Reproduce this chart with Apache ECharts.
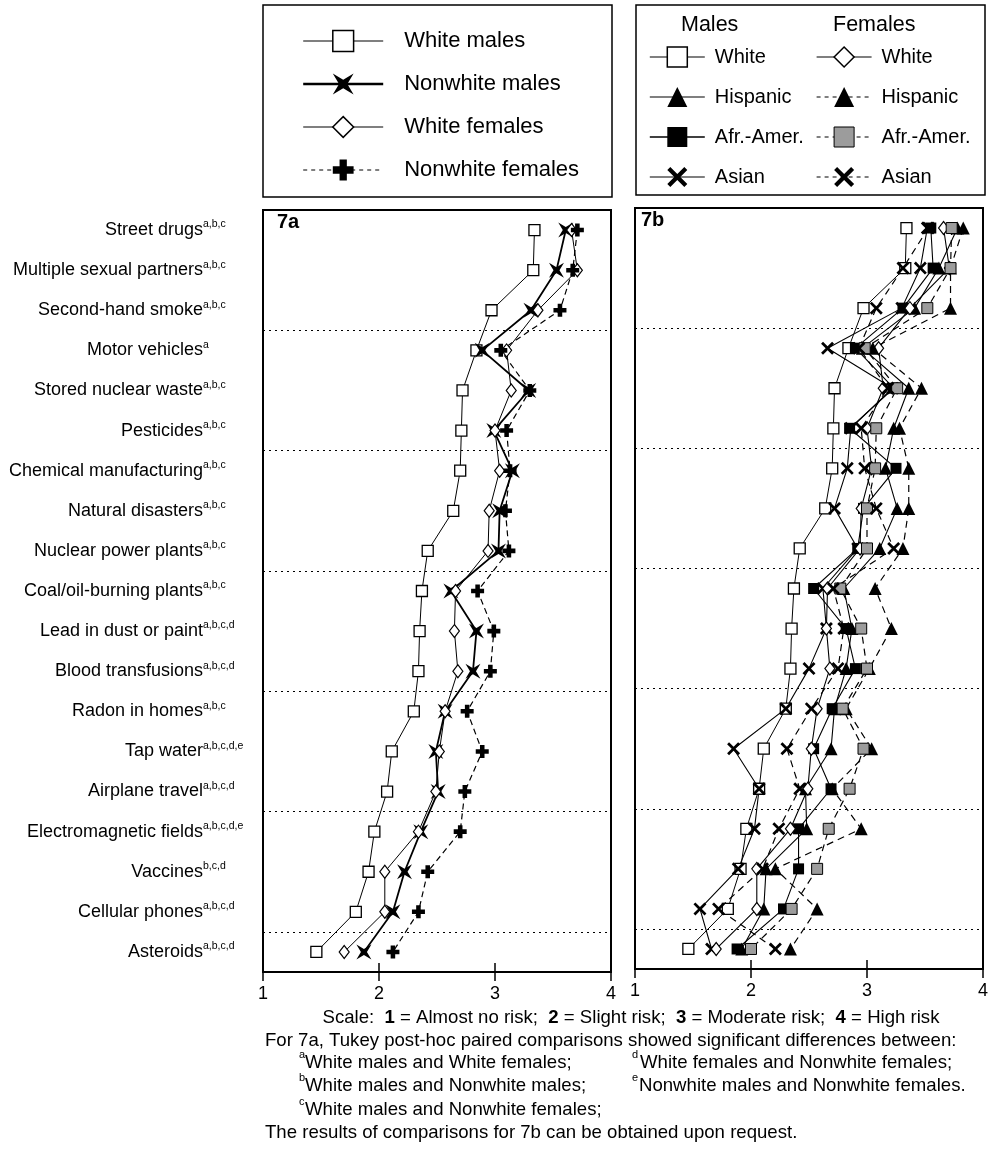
<!DOCTYPE html>
<html><head><meta charset="utf-8">
<script src="https://cdn.jsdelivr.net/npm/echarts@6/dist/echarts.min.js"></script>
<style>html,body{margin:0;padding:0;background:#fff}#c{width:993px;height:1153px}</style>
</head><body><div id="c"></div>
<script>
// ---------- data ----------
const categories = ['Street drugs','Multiple sexual partners','Second-hand smoke','Motor vehicles','Stored nuclear waste','Pesticides','Chemical manufacturing','Natural disasters','Nuclear power plants','Coal/oil-burning plants','Lead in dust or paint','Blood transfusions','Radon in homes','Tap water','Airplane travel','Electromagnetic fields','Vaccines','Cellular phones','Asteroids'];
const superscripts = ['a,b,c','a,b,c','a,b,c','a','a,b,c','a,b,c','a,b,c','a,b,c','a,b,c','a,b,c','a,b,c,d','a,b,c,d','a,b,c','a,b,c,d,e','a,b,c,d','a,b,c,d,e','b,c,d','a,b,c,d','a,b,c,d'];
const tickLabels = ['1','2','3','4'];

// 7a
const whiteMales      = [3.34,3.33,2.97,2.84,2.72,2.71,2.70,2.64,2.42,2.37,2.35,2.34,2.30,2.11,2.07,1.96,1.91,1.80,1.46];
const nonwhiteMales   = [3.61,3.53,3.31,2.89,3.29,2.99,3.15,3.04,3.03,2.62,2.84,2.81,2.57,2.49,2.51,2.36,2.22,2.12,1.87];
const whiteFemales    = [3.66,3.71,3.37,3.10,3.14,3.00,3.04,2.95,2.94,2.66,2.65,2.68,2.57,2.52,2.49,2.34,2.05,2.05,1.70];
const nonwhiteFemales = [3.71,3.67,3.56,3.05,3.30,3.10,3.13,3.09,3.12,2.85,2.99,2.96,2.76,2.89,2.74,2.70,2.42,2.34,2.12];

// 7b (white males / white females are the same groups as in 7a)
const mHispanic = [3.78,3.62,3.41,2.96,3.36,3.23,3.16,3.26,3.11,2.80,2.87,2.82,2.72,2.69,2.47,2.48,2.13,2.11,1.92];
const mAfrAmer  = [3.55,3.57,3.31,2.90,3.23,2.85,3.25,2.97,2.92,2.54,2.82,2.90,2.70,2.54,2.69,2.41,2.41,2.28,1.88];
const mAsian    = [3.52,3.46,3.30,2.66,3.22,2.86,2.83,2.72,2.92,2.62,2.65,2.50,2.30,1.85,2.07,2.03,1.89,1.56,1.66];
const fHispanic = [3.83,3.72,3.72,3.05,3.47,3.28,3.36,3.36,3.31,3.07,3.21,3.02,2.82,3.04,2.70,2.95,2.21,2.57,2.34];
const fAfrAmer  = [3.73,3.72,3.52,2.98,3.26,3.08,3.07,3.00,3.00,2.77,2.95,3.00,2.79,2.97,2.85,2.67,2.57,2.35,2.00];
const fAsian    = [3.53,3.31,3.08,2.93,3.18,2.95,2.98,3.08,3.23,2.71,2.80,2.75,2.52,2.31,2.42,2.24,2.10,1.72,2.21];

// ---------- chart ----------
const FONT = '"Liberation Sans", Arial, Helvetica, sans-serif';
const STAR4 = 'path://M0,0 L10,6 L20,0 L14,10 L20,20 L10,14 L0,20 L6,10 Z';
const PLUS  = 'path://M6.5,0 H13.5 V6.5 H20 V13.5 H13.5 V20 H6.5 V13.5 H0 V6.5 H6.5 Z';
const CROSS = 'path://M0,3 L3,0 L10,7 L17,0 L20,3 L13,10 L20,17 L17,20 L10,13 L3,20 L0,17 L7,10 Z';

function ser(name, data, ax, symbol, size, fill, border, lw, dash) {
  return {
    name, type: 'line', data, xAxisIndex: ax, yAxisIndex: ax,
    symbol, symbolSize: size, showAllSymbol: true, silent: true,
    itemStyle: { color: fill, borderColor: '#000', borderWidth: border },
    lineStyle: { color: '#000', width: lw, type: dash || 'solid' },
    emphasis: { disabled: true }
  };
}

function xAx(grid, main) {
  return {
    gridIndex: grid, type: 'value', min: 1, max: 4, interval: 1, position: 'bottom',
    axisLine: { show: main, onZero: false, lineStyle: { color: '#000', width: 2 } },
    axisTick: { show: true, inside: !main, length: 9, lineStyle: { color: '#000', width: 1.5 } },
    axisLabel: { show: main, color: '#000', fontSize: 18, fontFamily: FONT, margin: 13,
                 formatter: v => tickLabels[Math.round(v) - 1] },
    splitLine: { show: false }
  };
}

function yAx(grid, labels) {
  return {
    gridIndex: grid, type: 'category', data: categories, inverse: true, boundaryGap: true,
    axisLine: { show: false }, axisTick: { show: false },
    axisLabel: {
      show: labels, interval: 0, margin: 2,
      formatter: (v, i) => '{n|' + v + '}{s|' + superscripts[i] + '}',
      rich: {
        n: { fontSize: 18, fontFamily: FONT, color: '#000', lineHeight: 22, align: 'left' },
        s: { fontSize: 10.5, fontFamily: FONT, color: '#000', width: 58, align: 'left', verticalAlign: 'top', lineHeight: 11 }
      }
    },
    splitLine: { show: true, interval: (i) => i > 0 && i % 3 === 0 && i < categories.length,
                 lineStyle: { color: '#000', width: 1, type: [2, 4] } }
  };
}

function txt(text, x, y, size, opts) {
  return Object.assign({ type: 'text', x, y, silent: true,
    style: Object.assign({ text, fontSize: size, fontFamily: FONT, fill: '#000',
      align: 'left', verticalAlign: 'middle', textAlign: 'left', textVerticalAlign: 'middle' }, (opts && opts.style) || {}) },
    (opts && opts.el) || {});
}

const FT = 18.6; // footer font size
const bLegendText = { fontSize: 20, fontFamily: FONT, color: '#000', lineHeight: 25, padding: [0, 0, 0, 5] };

const option = {
  animation: false,
  backgroundColor: '#fff',
  grid: [
    { left: 263, top: 210, width: 348, height: 762, show: true, borderColor: '#000', borderWidth: 2, backgroundColor: 'transparent' },
    { left: 635, top: 208, width: 348, height: 761, show: true, borderColor: '#000', borderWidth: 2, backgroundColor: 'transparent' }
  ],
  xAxis: [xAx(0, true), xAx(1, true), xAx(0, false), xAx(1, false)],
  yAxis: [yAx(0, true), yAx(1, false)],
  legend: [
    { orient: 'vertical', left: 302, top: 28, padding: 0, itemWidth: 80, itemHeight: 26, itemGap: 17,
      textStyle: { fontSize: 22, fontFamily: FONT, color: '#000', lineHeight: 26, padding: [0, 0, 0, 16] }, selectedMode: false,
      data: [
        { name: 'White males', itemStyle: { borderWidth: 1.5 }, lineStyle: { width: 1.2 } },
        { name: 'Nonwhite males', itemStyle: { borderWidth: 0 }, lineStyle: { width: 2.4 } },
        { name: 'White females', itemStyle: { borderWidth: 1.5 }, lineStyle: { width: 1.2 } },
        { name: 'Nonwhite females', itemStyle: { borderWidth: 0 }, lineStyle: { width: 1.2, type: [4, 4] } }
      ] },
    { orient: 'vertical', left: 649, top: 44.5, padding: 0, itemWidth: 55, itemHeight: 25, itemGap: 15,
      textStyle: bLegendText, selectedMode: false,
      formatter: n => n.split(' ').slice(1).join(' '),
      data: [
        { name: 'Males White', itemStyle: { borderWidth: 1.5 }, lineStyle: { width: 1.2 } },
        { name: 'Males Hispanic', itemStyle: { borderWidth: 0 }, lineStyle: { width: 1.2 } },
        { name: 'Males Afr.-Amer.', itemStyle: { borderWidth: 0 }, lineStyle: { width: 1.6 } },
        { name: 'Males Asian', itemStyle: { borderWidth: 0 }, lineStyle: { width: 1.2 } }
      ] },
    { orient: 'vertical', left: 816, top: 44.5, padding: 0, itemWidth: 55, itemHeight: 25, itemGap: 15,
      textStyle: bLegendText, selectedMode: false,
      formatter: n => n.split(' ').slice(1).join(' '),
      data: [
        { name: 'Females White', itemStyle: { borderWidth: 1.5 }, lineStyle: { width: 1.2 } },
        { name: 'Females Hispanic', itemStyle: { borderWidth: 0 }, lineStyle: { width: 1.1, type: [4, 4] } },
        { name: 'Females Afr.-Amer.', itemStyle: { borderWidth: 1 }, lineStyle: { width: 1.1, type: [4, 4] } },
        { name: 'Females Asian', itemStyle: { borderWidth: 0 }, lineStyle: { width: 1.1, type: [4, 4] } }
      ] }
  ],
  series: [
    ser('White males', whiteMales, 0, 'rect', 11, '#fff', 1.3, 1),
    ser('Nonwhite males', nonwhiteMales, 0, STAR4, 15, '#000', 0, 1.8),
    ser('White females', whiteFemales, 0, 'diamond', [10, 13], '#fff', 1.2, 1),
    ser('Nonwhite females', nonwhiteFemales, 0, PLUS, 13, '#000', 0, 1.2, [6, 4]),

    ser('Males White', whiteMales, 1, 'rect', 11, '#fff', 1.3, 1),
    ser('Males Hispanic', mHispanic, 1, 'triangle', 13, '#000', 0, 1.1),
    ser('Males Afr.-Amer.', mAfrAmer, 1, 'rect', 11, '#000', 0, 1.1),
    ser('Males Asian', mAsian, 1, CROSS, 13, '#000', 0, 1.1),
    ser('Females White', whiteFemales, 1, 'diamond', [10, 13], '#fff', 1.2, 1.1),
    ser('Females Hispanic', fHispanic, 1, 'triangle', 13, '#000', 0, 1.2, [7, 5]),
    ser('Females Afr.-Amer.', fAfrAmer, 1, 'rect', 11, '#9c9c9c', 1, 1.2, [7, 5]),
    ser('Females Asian', fAsian, 1, CROSS, 13, '#000', 0, 1.2, [7, 5])
  ],
  graphic: [
    { type: 'rect', shape: { x: 263, y: 5, width: 349, height: 192 }, style: { fill: 'none', stroke: '#000', lineWidth: 1.5 }, silent: true },
    { type: 'rect', shape: { x: 636, y: 5, width: 349, height: 190 }, style: { fill: 'none', stroke: '#000', lineWidth: 1.5 }, silent: true },
    txt('Males', 681, 25, 21.5),
    txt('Females', 833, 25, 21.5),
    txt('7a', 277, 222, 20, { style: { fontWeight: 'bold' } }),
    txt('7b', 641, 220, 20, { style: { fontWeight: 'bold' } }),
    txt('Scale:  {b|1} = Almost no risk;  {b|2} = Slight risk;  {b|3} = Moderate risk;  {b|4} = High risk', 631, 1018, FT,
        { style: { align: 'center', textAlign: 'center', rich: { b: { fontSize: FT, fontFamily: FONT, fontWeight: 'bold', fill: '#000' } } } }),
    txt('For 7a, Tukey post-hoc paired comparisons showed significant differences between:', 265, 1041, FT),
    txt('a', 299, 1055, 11), txt('White males and White females;', 305, 1063, FT),
    txt('d', 632, 1055, 11), txt('White females and Nonwhite females;', 640, 1063, FT),
    txt('b', 299, 1078, 11), txt('White males and Nonwhite males;', 305, 1086, FT),
    txt('e', 632, 1078, 11), txt('Nonwhite males and Nonwhite females.', 639, 1086, FT),
    txt('c', 299, 1102, 11), txt('White males and Nonwhite females;', 305, 1110, FT),
    txt('The results of comparisons for 7b can be obtained upon request.', 265, 1133, FT)
  ]
};

const chart = echarts.init(document.getElementById('c'));
chart.setOption(option);
</script>
</body></html>
